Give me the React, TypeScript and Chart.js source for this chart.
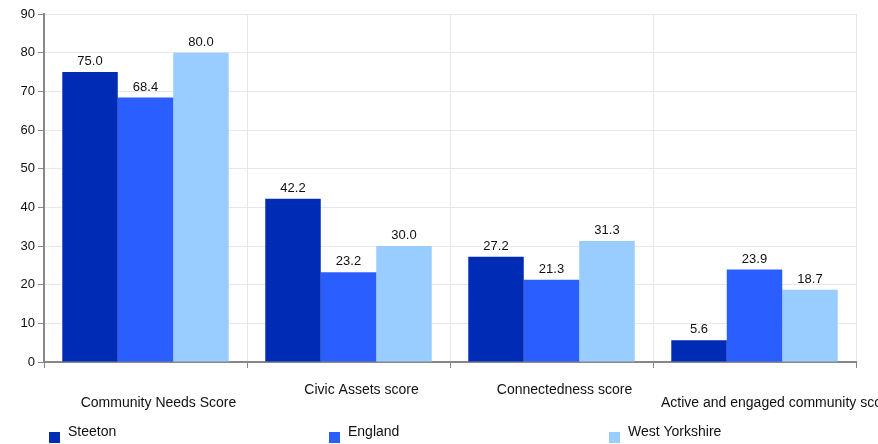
import React, { useEffect, useRef } from "react";
import { Chart, registerables } from "chart.js";

Chart.register(...registerables);

const categories = [
  "Community Needs Score",
  "Civic Assets score",
  "Connectedness score",
  "Active and engaged community score",
];
const seriesNames = ["Steeton", "England", "West Yorkshire"];
const steeton = [75.0, 42.2, 27.2, 5.6];
const england = [68.4, 23.2, 21.3, 23.9];
const westYorkshire = [80.0, 30.0, 31.3, 18.7];
const colors = ["#002BB5", "#2B5EFF", "#99CCFF"];
const yTicks = [0, 10, 20, 30, 40, 50, 60, 70, 80, 90];

const FAMILY = "Arial, 'Liberation Sans', sans-serif";

const overlayPlugin = {
  id: "overlay",
  afterDatasetsDraw(chart: any) {
    const ctx = chart.ctx;
    ctx.save();
    ctx.fillStyle = "#111";
    // value labels
    ctx.font = "13px " + FAMILY;
    chart.data.datasets.forEach((ds: any, di: number) => {
      const meta = chart.getDatasetMeta(di);
      meta.data.forEach((bar: any, i: number) => {
        ctx.textAlign = "center";
        ctx.textBaseline = "alphabetic";
        ctx.fillText(Number(ds.data[i]).toFixed(1), bar.x, bar.y - 7);
      });
    });
    // category labels
    ctx.font = "14px " + FAMILY;
    const xs = chart.scales.x;
    const n = categories.length;
    const catW = (chart.chartArea.right - chart.chartArea.left) / n;
    categories.forEach((c, i) => {
      const center = xs.getPixelForValue(i);
      const lower = i === 0 || i === n - 1;
      const y = chart.chartArea.bottom + (lower ? 41 : 28);
      ctx.textBaseline = "middle";
      const w = ctx.measureText(c).width;
      if (w > catW) {
        ctx.textAlign = "left";
        ctx.fillText(c, center - catW / 2 + 8, y);
      } else {
        ctx.textAlign = "center";
        ctx.fillText(c, center + 13, y);
      }
    });
    // legend
    seriesNames.forEach((name, i) => {
      const x0 = 49 + i * 280;
      ctx.fillStyle = colors[i];
      ctx.fillRect(x0, 432, 11, 11);
      ctx.fillStyle = "#111";
      ctx.textAlign = "left";
      ctx.textBaseline = "middle";
      ctx.fillText(name, x0 + 19, 432);
    });
    ctx.restore();
  },
};

export default function App() {
  const ref = useRef<HTMLCanvasElement>(null);
  useEffect(() => {
    if (!ref.current) return;
    const chart = new Chart(ref.current, {
      type: "bar",
      data: {
        labels: categories,
        datasets: [steeton, england, westYorkshire].map((d, i) => ({
          label: seriesNames[i],
          data: d,
          backgroundColor: colors[i],
          borderWidth: 0,
          barPercentage: 1,
          categoryPercentage: 0.82,
        })),
      },
      options: {
        responsive: false,
        animation: false,
        layout: { padding: { top: 14, right: 22, left: 0, bottom: 0 } },
        plugins: {
          legend: { display: false },
          tooltip: { enabled: false },
        },
        scales: {
          x: {
            ticks: { display: false },
            grid: {
              offset: true,
              color: "#e8e8e8",
              lineWidth: 1,
              tickColor: "#888",
              tickLength: 6,
            },
            border: { color: "#888", width: 2 },
            afterFit: (s: any) => {
              s.height = 82;
            },
          },
          y: {
            min: 0,
            max: 90,
            afterBuildTicks: (s: any) => {
              s.ticks = yTicks.map((v) => ({ value: v }));
            },
            ticks: {
              color: "#111",
              font: { family: FAMILY, size: 13 },
              padding: 3,
            },
            grid: {
              color: "#e8e8e8",
              lineWidth: 1,
              tickColor: "#888",
              tickLength: 6,
            },
            border: { color: "#888", width: 2 },
            afterFit: (s: any) => {
              s.width = 44;
            },
          },
        },
      },
      plugins: [overlayPlugin],
    });
    return () => chart.destroy();
  }, []);
  return (
    <div style={{ position: "fixed", left: 0, top: 0, width: 878, height: 444, background: "#fff" }}>
      <canvas ref={ref} width={878} height={444} style={{ display: "block" }} />
    </div>
  );
}
